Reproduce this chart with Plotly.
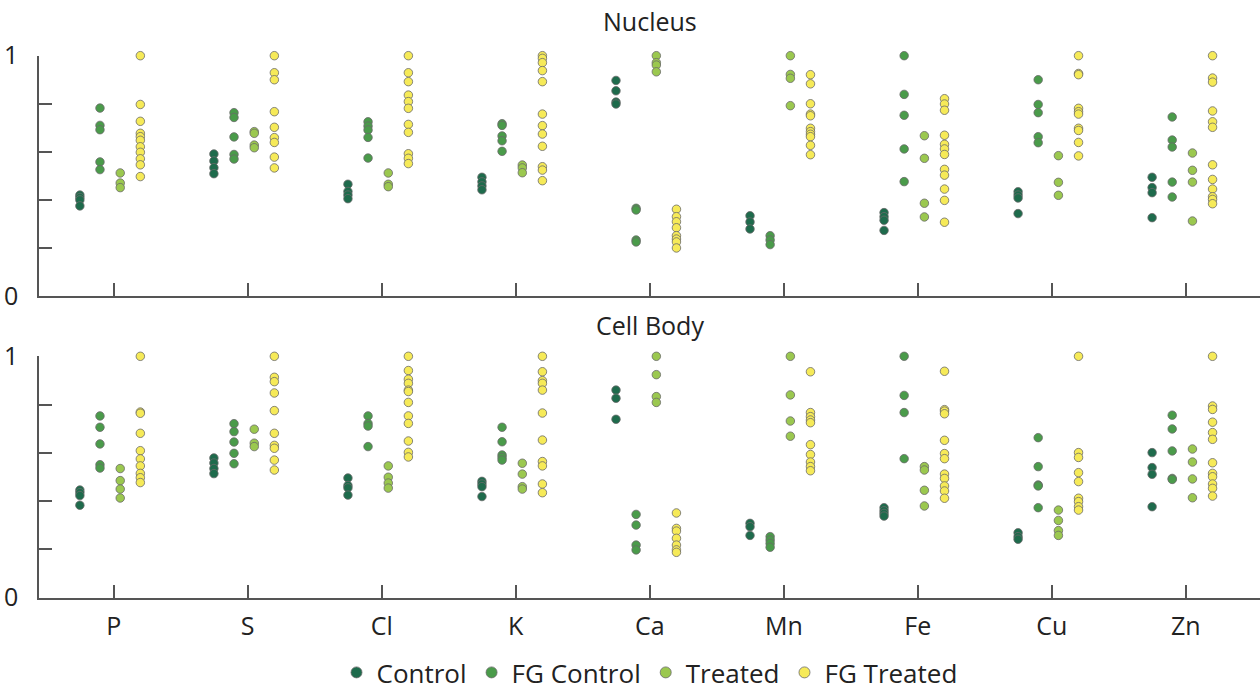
import plotly.graph_objects as go

categories = ["P", "S", "Cl", "K", "Ca", "Mn", "Fe", "Cu", "Zn"]
series_names = ["Control", "FG Control", "Treated", "FG Treated"]
series_colors = ["#1e6b4c", "#4a9b4a", "#9bc84f", "#f6ea58"]
series_offsets = [-0.252, -0.102, 0.049, 0.199]
panel_titles = ["Nucleus", "Cell Body"]
y_tick_values = [0, 0.2, 0.4, 0.6, 0.8, 1]
y_tick_labels = ["0", "", "", "", "", "1"]

# Nucleus (values per element, order = categories)
nuc_control = [
    [0.42, 0.41, 0.40, 0.375], [0.591, 0.562, 0.534, 0.509], [0.465, 0.435, 0.42, 0.405],
    [0.494, 0.475, 0.458, 0.442], [0.897, 0.854, 0.807, 0.799], [0.334, 0.308, 0.279],
    [0.347, 0.330, 0.315, 0.273], [0.434, 0.42, 0.408, 0.343], [0.494, 0.451, 0.430, 0.326]]
nuc_fg_control = [
    [0.782, 0.71, 0.692, 0.558, 0.526], [0.763, 0.743, 0.662, 0.589, 0.570],
    [0.725, 0.707, 0.691, 0.660, 0.574], [0.717, 0.710, 0.666, 0.646, 0.602],
    [0.365, 0.358, 0.233, 0.225], [0.251, 0.233, 0.214], [1.0, 0.839, 0.752, 0.612, 0.476],
    [0.900, 0.797, 0.763, 0.663, 0.638], [0.745, 0.649, 0.620, 0.474, 0.412]]
nuc_treated = [
    [0.512, 0.47, 0.451], [0.684, 0.677, 0.628, 0.617], [0.512, 0.465, 0.455],
    [0.545, 0.533, 0.513], [1.0, 0.971, 0.961, 0.933], [1.0, 0.922, 0.906, 0.792],
    [0.667, 0.573, 0.386, 0.329], [0.584, 0.473, 0.419], [0.595, 0.523, 0.474, 0.312]]
nuc_fg_treated = [
    [1.0, 0.797, 0.727, 0.677, 0.663, 0.648, 0.621, 0.598, 0.571, 0.546, 0.497],
    [1.0, 0.929, 0.900, 0.767, 0.702, 0.659, 0.639, 0.578, 0.533],
    [1.0, 0.929, 0.892, 0.836, 0.809, 0.781, 0.714, 0.681, 0.592, 0.573, 0.551],
    [1.0, 0.989, 0.971, 0.938, 0.892, 0.757, 0.709, 0.674, 0.623, 0.538, 0.524, 0.480],
    [0.361, 0.330, 0.309, 0.284, 0.251, 0.237, 0.225, 0.200],
    [0.921, 0.883, 0.800, 0.757, 0.750, 0.698, 0.684, 0.673, 0.663, 0.627, 0.588],
    [0.821, 0.799, 0.773, 0.669, 0.631, 0.612, 0.589, 0.527, 0.503, 0.445, 0.398, 0.307],
    [1.0, 0.926, 0.921, 0.781, 0.767, 0.757, 0.698, 0.689, 0.639, 0.583],
    [1.0, 0.907, 0.890, 0.770, 0.725, 0.702, 0.546, 0.485, 0.445, 0.413, 0.402, 0.384]]

# Cell Body
cb_control = [
    [0.446, 0.435, 0.423, 0.383], [0.579, 0.558, 0.535, 0.514], [0.496, 0.465, 0.455, 0.425],
    [0.482, 0.471, 0.460, 0.419], [0.860, 0.826, 0.739], [0.308, 0.294, 0.258],
    [0.373, 0.360, 0.349, 0.338], [0.269, 0.253, 0.242], [0.601, 0.539, 0.511, 0.377]]
cb_fg_control = [
    [0.753, 0.706, 0.637, 0.551, 0.537], [0.721, 0.688, 0.645, 0.598, 0.555],
    [0.753, 0.722, 0.711, 0.626], [0.706, 0.646, 0.591, 0.581, 0.570],
    [0.345, 0.301, 0.218, 0.198], [0.253, 0.239, 0.225, 0.209], [1.0, 0.838, 0.767, 0.576],
    [0.663, 0.543, 0.467, 0.463, 0.373], [0.756, 0.699, 0.608, 0.494, 0.490]]
cb_treated = [
    [0.535, 0.485, 0.450, 0.413], [0.698, 0.640, 0.626], [0.546, 0.499, 0.475, 0.454],
    [0.557, 0.512, 0.460, 0.450], [1.0, 0.924, 0.833, 0.809], [1.0, 0.840, 0.732, 0.669],
    [0.543, 0.529, 0.445, 0.380], [0.363, 0.320, 0.278, 0.258], [0.616, 0.562, 0.492, 0.414]]
cb_fg_treated = [
    [1.0, 0.769, 0.764, 0.681, 0.609, 0.575, 0.546, 0.515, 0.497, 0.477],
    [1.0, 0.913, 0.895, 0.848, 0.775, 0.681, 0.631, 0.619, 0.570, 0.529],
    [1.0, 0.941, 0.905, 0.888, 0.860, 0.854, 0.809, 0.753, 0.722, 0.649, 0.602, 0.583],
    [1.0, 0.936, 0.899, 0.888, 0.860, 0.765, 0.653, 0.564, 0.546, 0.471, 0.435],
    [0.351, 0.287, 0.276, 0.246, 0.218, 0.198, 0.188],
    [0.936, 0.767, 0.750, 0.736, 0.725, 0.634, 0.593, 0.562, 0.543, 0.526],
    [0.938, 0.779, 0.773, 0.762, 0.652, 0.597, 0.576, 0.512, 0.494, 0.463, 0.442, 0.412],
    [1.0, 0.601, 0.581, 0.518, 0.481, 0.412, 0.398, 0.377, 0.363],
    [1.0, 0.794, 0.780, 0.727, 0.684, 0.656, 0.559, 0.515, 0.501, 0.471, 0.453, 0.421]]

panels = [
    [nuc_control, nuc_fg_control, nuc_treated, nuc_fg_treated],
    [cb_control, cb_fg_control, cb_treated, cb_fg_treated],
]

FONT = "Open Sans, Noto Sans, sans-serif"
AXIS_COLOR = "#555555"
TEXT_COLOR = "#222222"

fig = go.Figure()
for p, panel in enumerate(panels):
    for s, series in enumerate(panel):
        xs, ys = [], []
        for ci, vals in enumerate(series):
            xs += [ci + series_offsets[s]] * len(vals)
            ys += vals
        fig.add_trace(go.Scatter(
            x=xs, y=ys, mode="markers", name=series_names[s],
            legendgroup=series_names[s], showlegend=False,
            cliponaxis=False,
            marker=dict(size=8.5, color=series_colors[s], line=dict(color="#6a6a6a", width=0.8)),
            xaxis="x" if p == 0 else "x2", yaxis="y" if p == 0 else "y2",
        ))

# legend entries (larger symbols, as in the reference legend)
for s, name in enumerate(series_names):
    fig.add_trace(go.Scatter(
        x=[None], y=[None], mode="markers", name=name, legendgroup=name, showlegend=True,
        marker=dict(size=11, color=series_colors[s], line=dict(color="#6a6a6a", width=0.8)),
        xaxis="x2", yaxis="y2",
    ))

H = 696.0
def py(pix):
    return (H - pix) / H

xcommon = dict(range=[-0.557, 8.553], tickvals=list(range(len(categories))), ticktext=categories,
               ticks="inside", ticklen=13, tickwidth=1.5, tickcolor=AXIS_COLOR,
               showline=True, linecolor=AXIS_COLOR, linewidth=1.5, showgrid=False, zeroline=False,
               domain=[0, 1], tickfont=dict(family=FONT, size=25, color=TEXT_COLOR))
ycommon = dict(range=[0, 1], tickvals=y_tick_values, ticktext=y_tick_labels,
               ticks="inside", ticklen=13, tickwidth=1.5, tickcolor=AXIS_COLOR,
               showline=True, linecolor=AXIS_COLOR, linewidth=1.5, showgrid=False, zeroline=False,
               tickfont=dict(family=FONT, size=25, color=TEXT_COLOR), ticklabelstandoff=14,
               automargin=False)

fig.update_layout(
    width=1260, height=696,
    margin=dict(l=39, r=0, t=0, b=0),
    paper_bgcolor="white", plot_bgcolor="white",
    font=dict(family=FONT, size=25, color=TEXT_COLOR),
    xaxis=dict(xcommon, anchor="y", showticklabels=False),
    yaxis=dict(ycommon, anchor="x", domain=[py(296.0), py(55.7)]),
    xaxis2=dict(xcommon, anchor="y2", showticklabels=True, ticklabelstandoff=6),
    yaxis2=dict(ycommon, anchor="x2", domain=[py(597.7), py(356.3)]),
    legend=dict(orientation="h", x=0.5, xanchor="center", y=0.0, yanchor="bottom",
                font=dict(family=FONT, size=26, color=TEXT_COLOR), itemsizing="trace",
                bgcolor="rgba(0,0,0,0)"),
    showlegend=True,
    annotations=[
        dict(text=panel_titles[0], x=0.5, xref="paper", y=py(21), yref="paper",
             xanchor="center", yanchor="middle", showarrow=False,
             font=dict(family=FONT, size=25, color=TEXT_COLOR)),
        dict(text=panel_titles[1], x=0.5, xref="paper", y=py(325), yref="paper",
             xanchor="center", yanchor="middle", showarrow=False,
             font=dict(family=FONT, size=25, color=TEXT_COLOR)),
    ],
)

fig.write_html("out.html")
